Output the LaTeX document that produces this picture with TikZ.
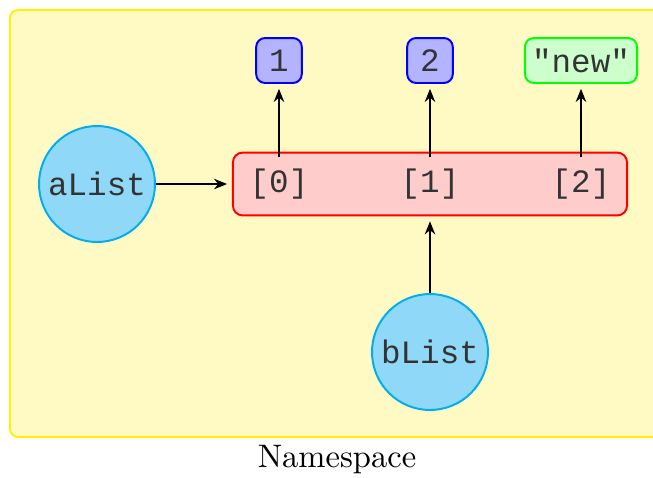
\documentclass[tikz,border=0pt]{standalone}
\usepackage{fontspec}
\setmonofont{Liberation Mono}
\usepackage{xcolor}
\usepackage{tikz}
\usetikzlibrary{arrows.meta}

\definecolor{nsfill}{RGB}{255,249,196}
\definecolor{nsline}{RGB}{255,242,0}
\definecolor{varfill}{RGB}{143,216,247}
\definecolor{varline}{RGB}{0,174,239}
\definecolor{lstfill}{RGB}{255,204,204}
\definecolor{intfill}{RGB}{179,179,255}
\definecolor{strfill}{RGB}{204,255,204}

\begin{document}
\begin{tikzpicture}[x=0.307pt, y=-0.307pt,
    var/.style={circle, draw=varline, fill=varfill, line width=0.6pt,
                minimum size=35.6pt, inner sep=0pt, font=\ttfamily, text=black!80},
    valbox/.style={rounded corners=2.7pt, line width=0.6pt, minimum width=14pt,
                minimum height=13.8pt, inner sep=2.2pt, font=\ttfamily, text=black!80},
    idx/.style={font=\ttfamily, text=black!80},
    ptr/.style={-{Stealth[length=4pt,width=3.2pt]}, line width=0.6pt, shorten >=1.5pt}]
            \clip (0,0) rectangle (653,477);

            \draw[fill=nsfill, draw=nsline, line width=0.6pt, rounded corners=2.5pt]
                (10,10) rectangle (680,437);
            \node at (337,460) {Namespace};

            \node[var] (aList) at (97,184) {aList};
            \node[var] (bList) at (430,352) {bList};

            \node[draw=red, fill=lstfill, line width=0.6pt, rounded corners=3pt,
                  minimum width=121pt, minimum height=19.3pt] (lst) at (430,184) {};
            \node[idx] (idx0) at (279,184) {[0]};
            \node[idx] (idx1) at (430,184) {[1]};
            \node[idx] (idx2) at (581,184) {[2]};

            \node[valbox, draw=blue, fill=intfill] (val0) at (279,60.5) {1};
            \node[valbox, draw=blue, fill=intfill] (val1) at (430,60.5) {2};
            \node[valbox, draw=green, fill=strfill] (val2) at (581,60.5) {"new"};

            \draw[ptr] (aList.east) -- (lst.west);
            \draw[ptr] (bList.north) -- (lst.south);
            \draw[ptr] (idx0.north) -- (val0.south);
            \draw[ptr] (idx1.north) -- (val1.south);
            \draw[ptr] (idx2.north) -- (val2.south);
\end{tikzpicture}
\end{document}
